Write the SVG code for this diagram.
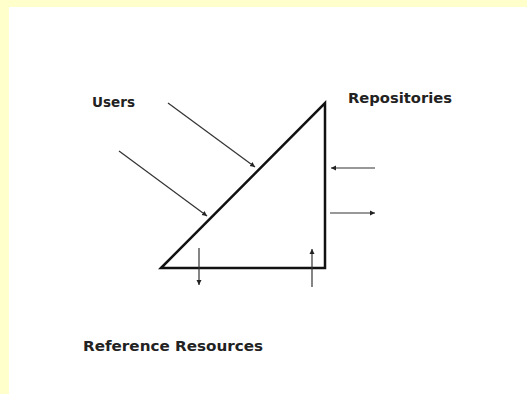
<svg xmlns="http://www.w3.org/2000/svg" width="527" height="394" viewBox="0 0 527 394">
  <defs>
    <marker id="ah" markerWidth="6" markerHeight="6" refX="5" refY="3" orient="auto" markerUnits="userSpaceOnUse">
      <path d="M0,0.5 L5,3 L0,5.5 Z" fill="#222"/>
    </marker>
  </defs>
  <style>
    .lbl { font-family: "DejaVu Sans", "Liberation Sans", sans-serif; font-weight: bold; font-size: 13.5px; fill: #222; }
    .conn { stroke: #333; stroke-width: 1.2; fill: none; marker-end: url(#ah); }
    .tri { stroke: #111; stroke-width: 2.5; fill: #fff; stroke-linejoin: miter; }
  </style>
  <rect x="0" y="0" width="527" height="394" fill="#ffffff"/>
  <rect x="0" y="0" width="527" height="7" fill="#ffffcc"/>
  <rect x="0" y="0" width="9" height="394" fill="#ffffcc"/>

  <g id="triangle">
    <path class="tri" d="M161,268 L325,103 L325,268 Z"/>
  </g>
  <g id="users">
    <text class="lbl" x="92" y="107" textLength="43" lengthAdjust="spacingAndGlyphs">Users</text>
  </g>
  <g id="repositories">
    <text class="lbl" x="348" y="103" textLength="104" lengthAdjust="spacingAndGlyphs">Repositories</text>
  </g>
  <g id="reference-resources">
    <text class="lbl" x="83" y="351" textLength="180" lengthAdjust="spacingAndGlyphs">Reference Resources</text>
  </g>

  <g id="connectors">
    <line class="conn" x1="168" y1="103" x2="255" y2="167"/>
    <line class="conn" x1="119" y1="151" x2="207" y2="216"/>
    <line class="conn" x1="375" y1="168" x2="331" y2="168"/>
    <line class="conn" x1="330" y1="213" x2="375" y2="213"/>
    <line class="conn" x1="199" y1="248" x2="199" y2="285"/>
    <line class="conn" x1="312" y1="287" x2="312" y2="249"/>
  </g>
</svg>
